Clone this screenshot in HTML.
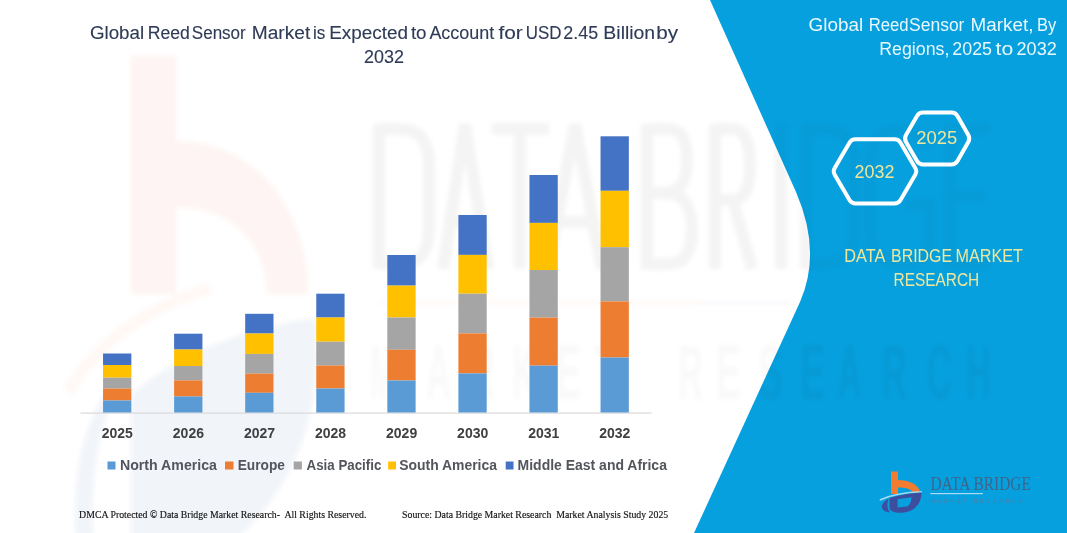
<!DOCTYPE html>
<html><head><meta charset="utf-8">
<style>
html,body{margin:0;padding:0;background:#fff;}
body{width:1067px;height:533px;overflow:hidden;position:relative;}
svg{position:absolute;left:0;top:0;}
text{white-space:pre;}
</style></head><body>
<svg width="1067" height="533" viewBox="0 0 1067 533">
<path d="M710,0 L796,192 Q822,252 800,302 L694,533 L1067,533 L1067,0 Z" fill="#07a0de"/>

<!-- watermark -->
<defs><filter id="bl" x="-10%" y="-10%" width="120%" height="120%"><feGaussianBlur stdDeviation="2"/></filter></defs>
<g filter="url(#bl)">
<g fill="#f05a3a" opacity="0.065">
<rect x="131" y="56" width="45" height="238"/>
<path d="M176,141 C252,141 308,205 308,294 L267,294 C267,243 230,207 176,207 Z"/>
</g>
<g fill="none" stroke="#ff6a1a" opacity="0.04" stroke-width="12">
<path d="M68,392 Q110,320 210,288"/>
</g>
<g fill="#2a4a9a" opacity="0.055">
<path d="M131,540 L131,395 C180,352 250,326 316,318 C322,410 300,480 236,540 Z"/><path d="M76,540 C72,470 84,420 112,384 L124,378 C100,420 90,470 93,540 Z"/>
</g>
<clipPath id="cw"><path d="M0,0 L710,0 L796,192 Q822,252 800,302 L694,533 L0,533 Z"/></clipPath><clipPath id="cb"><path d="M710,0 L796,192 Q822,252 800,302 L694,533 L1067,533 L1067,0 Z"/></clipPath><g clip-path="url(#cw)"><g fill="none" stroke="#000" stroke-opacity="0.045" stroke-width="12">
<path d="M379,124 L379,269 M379,129 L400,129 Q429,129 429,165 L429,228 Q429,264 400,264 L379,264"/>
<path d="M443,269 L465,124 L488,269 M451,222 L481,222"/>
<path d="M492,129 L549,129 M520,129 L520,269"/>
<path d="M548,269 L575,124 L602,269 M556,222 L594,222"/>
<path d="M647,124 L647,269 M647,129 L668,129 Q687,129 687,160 Q687,193 665,193 L647,193 M665,193 Q692,193 692,230 Q692,264 668,264 L647,264"/>
<path d="M715,269 L715,124 M715,129 L733,129 Q750,129 750,165 Q750,200 733,200 L715,200 M733,200 L752,269"/>
<path d="M781,124 L781,269"/>
<path d="M806,124 L806,269 M806,129 L825,129 Q855,129 855,165 L855,228 Q855,264 825,264 L806,264"/>
<path d="M928,150 Q920,129 900,129 Q870,129 870,165 L870,228 Q870,264 900,264 Q930,264 930,235 L930,205 L905,205"/>
<path d="M990,129 L950,129 L950,264 L990,264 M950,196 L985,196"/>
</g></g><g clip-path="url(#cb)"><g fill="none" stroke="#000" stroke-opacity="0.025" stroke-width="12">
<path d="M379,124 L379,269 M379,129 L400,129 Q429,129 429,165 L429,228 Q429,264 400,264 L379,264"/>
<path d="M443,269 L465,124 L488,269 M451,222 L481,222"/>
<path d="M492,129 L549,129 M520,129 L520,269"/>
<path d="M548,269 L575,124 L602,269 M556,222 L594,222"/>
<path d="M647,124 L647,269 M647,129 L668,129 Q687,129 687,160 Q687,193 665,193 L647,193 M665,193 Q692,193 692,230 Q692,264 668,264 L647,264"/>
<path d="M715,269 L715,124 M715,129 L733,129 Q750,129 750,165 Q750,200 733,200 L715,200 M733,200 L752,269"/>
<path d="M781,124 L781,269"/>
<path d="M806,124 L806,269 M806,129 L825,129 Q855,129 855,165 L855,228 Q855,264 825,264 L806,264"/>
<path d="M928,150 Q920,129 900,129 Q870,129 870,165 L870,228 Q870,264 900,264 Q930,264 930,235 L930,205 L905,205"/>
<path d="M990,129 L950,129 L950,264 L990,264 M950,196 L985,196"/>
</g></g>
<rect x="380" y="301" width="320" height="3" fill="#ff6a1a" opacity="0.05"/><rect x="700" y="301" width="90" height="3" fill="#2a4a9a" opacity="0.03"/>
<g clip-path="url(#cw)"><g fill="#000" opacity="0.022"><text x="370" y="399" textLength="25" lengthAdjust="spacingAndGlyphs" style="font-family:Liberation Sans;font-size:78px;font-weight:bold">M</text><text x="426" y="399" textLength="25" lengthAdjust="spacingAndGlyphs" style="font-family:Liberation Sans;font-size:78px;font-weight:bold">A</text><text x="470" y="399" textLength="25" lengthAdjust="spacingAndGlyphs" style="font-family:Liberation Sans;font-size:78px;font-weight:bold">R</text><text x="512" y="399" textLength="25" lengthAdjust="spacingAndGlyphs" style="font-family:Liberation Sans;font-size:78px;font-weight:bold">K</text><text x="556" y="399" textLength="25" lengthAdjust="spacingAndGlyphs" style="font-family:Liberation Sans;font-size:78px;font-weight:bold">E</text><text x="594" y="399" textLength="25" lengthAdjust="spacingAndGlyphs" style="font-family:Liberation Sans;font-size:78px;font-weight:bold">T</text><text x="678" y="399" textLength="25" lengthAdjust="spacingAndGlyphs" style="font-family:Liberation Sans;font-size:78px;font-weight:bold">R</text><text x="716" y="399" textLength="25" lengthAdjust="spacingAndGlyphs" style="font-family:Liberation Sans;font-size:78px;font-weight:bold">E</text><text x="758" y="399" textLength="25" lengthAdjust="spacingAndGlyphs" style="font-family:Liberation Sans;font-size:78px;font-weight:bold">S</text><text x="800" y="399" textLength="25" lengthAdjust="spacingAndGlyphs" style="font-family:Liberation Sans;font-size:78px;font-weight:bold">E</text><text x="837" y="399" textLength="25" lengthAdjust="spacingAndGlyphs" style="font-family:Liberation Sans;font-size:78px;font-weight:bold">A</text><text x="882" y="399" textLength="25" lengthAdjust="spacingAndGlyphs" style="font-family:Liberation Sans;font-size:78px;font-weight:bold">R</text><text x="927" y="399" textLength="25" lengthAdjust="spacingAndGlyphs" style="font-family:Liberation Sans;font-size:78px;font-weight:bold">C</text><text x="966" y="399" textLength="25" lengthAdjust="spacingAndGlyphs" style="font-family:Liberation Sans;font-size:78px;font-weight:bold">H</text></g></g><g clip-path="url(#cb)"><g fill="#000" opacity="0.04"><text x="370" y="399" textLength="25" lengthAdjust="spacingAndGlyphs" style="font-family:Liberation Sans;font-size:78px;font-weight:bold">M</text><text x="426" y="399" textLength="25" lengthAdjust="spacingAndGlyphs" style="font-family:Liberation Sans;font-size:78px;font-weight:bold">A</text><text x="470" y="399" textLength="25" lengthAdjust="spacingAndGlyphs" style="font-family:Liberation Sans;font-size:78px;font-weight:bold">R</text><text x="512" y="399" textLength="25" lengthAdjust="spacingAndGlyphs" style="font-family:Liberation Sans;font-size:78px;font-weight:bold">K</text><text x="556" y="399" textLength="25" lengthAdjust="spacingAndGlyphs" style="font-family:Liberation Sans;font-size:78px;font-weight:bold">E</text><text x="594" y="399" textLength="25" lengthAdjust="spacingAndGlyphs" style="font-family:Liberation Sans;font-size:78px;font-weight:bold">T</text><text x="678" y="399" textLength="25" lengthAdjust="spacingAndGlyphs" style="font-family:Liberation Sans;font-size:78px;font-weight:bold">R</text><text x="716" y="399" textLength="25" lengthAdjust="spacingAndGlyphs" style="font-family:Liberation Sans;font-size:78px;font-weight:bold">E</text><text x="758" y="399" textLength="25" lengthAdjust="spacingAndGlyphs" style="font-family:Liberation Sans;font-size:78px;font-weight:bold">S</text><text x="800" y="399" textLength="25" lengthAdjust="spacingAndGlyphs" style="font-family:Liberation Sans;font-size:78px;font-weight:bold">E</text><text x="837" y="399" textLength="25" lengthAdjust="spacingAndGlyphs" style="font-family:Liberation Sans;font-size:78px;font-weight:bold">A</text><text x="882" y="399" textLength="25" lengthAdjust="spacingAndGlyphs" style="font-family:Liberation Sans;font-size:78px;font-weight:bold">R</text><text x="927" y="399" textLength="25" lengthAdjust="spacingAndGlyphs" style="font-family:Liberation Sans;font-size:78px;font-weight:bold">C</text><text x="966" y="399" textLength="25" lengthAdjust="spacingAndGlyphs" style="font-family:Liberation Sans;font-size:78px;font-weight:bold">H</text></g></g>
</g>
<rect x="80.5" y="412.5" width="571" height="1.2" fill="#d9d9d9"/>
<rect x="103.05" y="353.50" width="28.3" height="11.50" fill="#4472C4"/>
<rect x="103.05" y="365.00" width="28.3" height="12.70" fill="#FFC000"/>
<rect x="103.05" y="377.70" width="28.3" height="10.90" fill="#A5A5A5"/>
<rect x="103.05" y="388.60" width="28.3" height="11.90" fill="#ED7D31"/>
<rect x="103.05" y="400.50" width="28.3" height="12.00" fill="#5B9BD5"/>
<rect x="174.12" y="333.70" width="28.3" height="15.80" fill="#4472C4"/>
<rect x="174.12" y="349.50" width="28.3" height="16.50" fill="#FFC000"/>
<rect x="174.12" y="366.00" width="28.3" height="14.40" fill="#A5A5A5"/>
<rect x="174.12" y="380.40" width="28.3" height="16.10" fill="#ED7D31"/>
<rect x="174.12" y="396.50" width="28.3" height="16.00" fill="#5B9BD5"/>
<rect x="245.19" y="313.80" width="28.3" height="19.70" fill="#4472C4"/>
<rect x="245.19" y="333.50" width="28.3" height="20.40" fill="#FFC000"/>
<rect x="245.19" y="353.90" width="28.3" height="19.70" fill="#A5A5A5"/>
<rect x="245.19" y="373.60" width="28.3" height="19.20" fill="#ED7D31"/>
<rect x="245.19" y="392.80" width="28.3" height="19.70" fill="#5B9BD5"/>
<rect x="316.26" y="293.70" width="28.3" height="23.80" fill="#4472C4"/>
<rect x="316.26" y="317.50" width="28.3" height="24.20" fill="#FFC000"/>
<rect x="316.26" y="341.70" width="28.3" height="23.80" fill="#A5A5A5"/>
<rect x="316.26" y="365.50" width="28.3" height="23.00" fill="#ED7D31"/>
<rect x="316.26" y="388.50" width="28.3" height="24.00" fill="#5B9BD5"/>
<rect x="387.33" y="255.00" width="28.3" height="30.60" fill="#4472C4"/>
<rect x="387.33" y="285.60" width="28.3" height="31.90" fill="#FFC000"/>
<rect x="387.33" y="317.50" width="28.3" height="32.30" fill="#A5A5A5"/>
<rect x="387.33" y="349.80" width="28.3" height="30.70" fill="#ED7D31"/>
<rect x="387.33" y="380.50" width="28.3" height="32.00" fill="#5B9BD5"/>
<rect x="458.40" y="215.00" width="28.3" height="39.90" fill="#4472C4"/>
<rect x="458.40" y="254.90" width="28.3" height="38.80" fill="#FFC000"/>
<rect x="458.40" y="293.70" width="28.3" height="39.70" fill="#A5A5A5"/>
<rect x="458.40" y="333.40" width="28.3" height="40.00" fill="#ED7D31"/>
<rect x="458.40" y="373.40" width="28.3" height="39.10" fill="#5B9BD5"/>
<rect x="529.47" y="175.00" width="28.3" height="47.90" fill="#4472C4"/>
<rect x="529.47" y="222.90" width="28.3" height="47.10" fill="#FFC000"/>
<rect x="529.47" y="270.00" width="28.3" height="47.60" fill="#A5A5A5"/>
<rect x="529.47" y="317.60" width="28.3" height="48.00" fill="#ED7D31"/>
<rect x="529.47" y="365.60" width="28.3" height="46.90" fill="#5B9BD5"/>
<rect x="600.54" y="136.30" width="28.3" height="54.50" fill="#4472C4"/>
<rect x="600.54" y="190.80" width="28.3" height="56.40" fill="#FFC000"/>
<rect x="600.54" y="247.20" width="28.3" height="54.20" fill="#A5A5A5"/>
<rect x="600.54" y="301.40" width="28.3" height="56.10" fill="#ED7D31"/>
<rect x="600.54" y="357.50" width="28.3" height="55.00" fill="#5B9BD5"/>
<rect x="107.5" y="461.5" width="8" height="8" fill="#5B9BD5"/>
<rect x="225" y="461.5" width="8.5" height="8" fill="#ED7D31"/>
<rect x="293.7" y="461.5" width="8.2" height="8" fill="#A5A5A5"/>
<rect x="388.2" y="461.5" width="7.8" height="8" fill="#FFC000"/>
<rect x="505.7" y="461.5" width="7.8" height="8" fill="#4472C4"/>
<path d="M834.72,174.80 Q832.70,171.35 834.72,167.90 L849.48,142.65 Q851.50,139.20 855.50,139.20 L894.50,139.20 Q898.50,139.20 900.52,142.65 L915.28,167.90 Q917.30,171.35 915.28,174.80 L900.52,200.05 Q898.50,203.50 894.50,203.50 L855.50,203.50 Q851.50,203.50 849.48,200.05 Z" fill="none" stroke="#fff" stroke-width="4"/>
<path d="M906.00,141.96 Q904.00,138.50 906.00,135.04 L917.00,115.96 Q919.00,112.50 923.00,112.50 L951.50,112.50 Q955.50,112.50 957.48,115.98 L968.32,135.02 Q970.30,138.50 968.32,141.98 L957.48,161.02 Q955.50,164.50 951.50,164.50 L923.00,164.50 Q919.00,164.50 917.00,161.04 Z" fill="none" stroke="#fff" stroke-width="4"/>
<text x="89.93" y="39" textLength="54.21" lengthAdjust="spacingAndGlyphs" style="font-family:Liberation Sans;font-size:17.5px;font-weight:normal;fill:#2e3b57;stroke:#2e3b57;stroke-width:0.12">Global</text>
<text x="147.69" y="39" textLength="42.16" lengthAdjust="spacingAndGlyphs" style="font-family:Liberation Sans;font-size:17.5px;font-weight:normal;fill:#2e3b57;stroke:#2e3b57;stroke-width:0.12">Reed</text>
<text x="191.83" y="39" textLength="53.91" lengthAdjust="spacingAndGlyphs" style="font-family:Liberation Sans;font-size:17.5px;font-weight:normal;fill:#2e3b57;stroke:#2e3b57;stroke-width:0.12">Sensor</text>
<text x="251.81" y="39" textLength="58.42" lengthAdjust="spacingAndGlyphs" style="font-family:Liberation Sans;font-size:17.5px;font-weight:normal;fill:#2e3b57;stroke:#2e3b57;stroke-width:0.12">Market</text>
<text x="313.03" y="39" textLength="12.3" lengthAdjust="spacingAndGlyphs" style="font-family:Liberation Sans;font-size:17.5px;font-weight:normal;fill:#2e3b57;stroke:#2e3b57;stroke-width:0.12">is</text>
<text x="329.22" y="39" textLength="78.93" lengthAdjust="spacingAndGlyphs" style="font-family:Liberation Sans;font-size:17.5px;font-weight:normal;fill:#2e3b57;stroke:#2e3b57;stroke-width:0.12">Expected</text>
<text x="410.9" y="39" textLength="15.65" lengthAdjust="spacingAndGlyphs" style="font-family:Liberation Sans;font-size:17.5px;font-weight:normal;fill:#2e3b57;stroke:#2e3b57;stroke-width:0.12">to</text>
<text x="429.4" y="39" textLength="64.84" lengthAdjust="spacingAndGlyphs" style="font-family:Liberation Sans;font-size:17.5px;font-weight:normal;fill:#2e3b57;stroke:#2e3b57;stroke-width:0.12">Account</text>
<text x="498.4" y="39" textLength="24.32" lengthAdjust="spacingAndGlyphs" style="font-family:Liberation Sans;font-size:17.5px;font-weight:normal;fill:#2e3b57;stroke:#2e3b57;stroke-width:0.12">for</text>
<text x="525.83" y="39" textLength="35.69" lengthAdjust="spacingAndGlyphs" style="font-family:Liberation Sans;font-size:17.5px;font-weight:normal;fill:#2e3b57;stroke:#2e3b57;stroke-width:0.12">USD</text>
<text x="563.28" y="39" textLength="34.81" lengthAdjust="spacingAndGlyphs" style="font-family:Liberation Sans;font-size:17.5px;font-weight:normal;fill:#2e3b57;stroke:#2e3b57;stroke-width:0.12">2.45</text>
<text x="603.39" y="39" textLength="51.79" lengthAdjust="spacingAndGlyphs" style="font-family:Liberation Sans;font-size:17.5px;font-weight:normal;fill:#2e3b57;stroke:#2e3b57;stroke-width:0.12">Billion</text>
<text x="656.22" y="39" textLength="21.86" lengthAdjust="spacingAndGlyphs" style="font-family:Liberation Sans;font-size:17.5px;font-weight:normal;fill:#2e3b57;stroke:#2e3b57;stroke-width:0.12">by</text>
<text x="364.08" y="63" textLength="39.88" lengthAdjust="spacingAndGlyphs" style="font-family:Liberation Sans;font-size:17.5px;font-weight:normal;fill:#2e3b57;stroke:#2e3b57;stroke-width:0.12">2032</text>
<text x="808.62" y="30.6" textLength="54.62" lengthAdjust="spacingAndGlyphs" style="font-family:Liberation Sans;font-size:17.5px;font-weight:normal;fill:#e8f8fe">Global</text>
<text x="868.64" y="30.6" textLength="39.96" lengthAdjust="spacingAndGlyphs" style="font-family:Liberation Sans;font-size:17.5px;font-weight:normal;fill:#e8f8fe">Reed</text>
<text x="909.0" y="30.6" textLength="55.45" lengthAdjust="spacingAndGlyphs" style="font-family:Liberation Sans;font-size:17.5px;font-weight:normal;fill:#e8f8fe">Sensor</text>
<text x="970.62" y="30.6" textLength="62.84" lengthAdjust="spacingAndGlyphs" style="font-family:Liberation Sans;font-size:17.5px;font-weight:normal;fill:#e8f8fe">Market,</text>
<text x="1037.05" y="30.6" textLength="19.36" lengthAdjust="spacingAndGlyphs" style="font-family:Liberation Sans;font-size:17.5px;font-weight:normal;fill:#e8f8fe">By</text>
<text x="879.29" y="54.5" textLength="70.11" lengthAdjust="spacingAndGlyphs" style="font-family:Liberation Sans;font-size:17.5px;font-weight:normal;fill:#e8f8fe">Regions,</text>
<text x="952.38" y="54.5" textLength="39.67" lengthAdjust="spacingAndGlyphs" style="font-family:Liberation Sans;font-size:17.5px;font-weight:normal;fill:#e8f8fe">2025</text>
<text x="995.6" y="54.5" textLength="17.64" lengthAdjust="spacingAndGlyphs" style="font-family:Liberation Sans;font-size:17.5px;font-weight:normal;fill:#e8f8fe">to</text>
<text x="1016.57" y="54.5" textLength="40.2" lengthAdjust="spacingAndGlyphs" style="font-family:Liberation Sans;font-size:17.5px;font-weight:normal;fill:#e8f8fe">2032</text>
<text x="844.3" y="261.9" textLength="41.02" lengthAdjust="spacingAndGlyphs" style="font-family:Liberation Sans;font-size:18px;font-weight:normal;fill:#efe79c">DATA</text>
<text x="891.12" y="261.9" textLength="60.88" lengthAdjust="spacingAndGlyphs" style="font-family:Liberation Sans;font-size:18px;font-weight:normal;fill:#efe79c">BRIDGE</text>
<text x="955.4" y="261.9" textLength="67.51" lengthAdjust="spacingAndGlyphs" style="font-family:Liberation Sans;font-size:18px;font-weight:normal;fill:#efe79c">MARKET</text>
<text x="893.54" y="285.6" textLength="85.64" lengthAdjust="spacingAndGlyphs" style="font-family:Liberation Sans;font-size:18px;font-weight:normal;fill:#efe79c">RESEARCH</text>
<text x="854.61" y="177.7" textLength="39.84" lengthAdjust="spacingAndGlyphs" style="font-family:Liberation Sans;font-size:18px;font-weight:normal;fill:#efe79c">2032</text>
<text x="916.28" y="143.8" textLength="40.89" lengthAdjust="spacingAndGlyphs" style="font-family:Liberation Sans;font-size:18px;font-weight:normal;fill:#efe79c">2025</text>
<text x="119.99" y="469.9" textLength="96.96" lengthAdjust="spacingAndGlyphs" style="font-family:Liberation Sans;font-size:14px;font-weight:bold;fill:#52555b">North America</text>
<text x="237.72" y="469.9" textLength="47.21" lengthAdjust="spacingAndGlyphs" style="font-family:Liberation Sans;font-size:14px;font-weight:bold;fill:#52555b">Europe</text>
<text x="306.6" y="469.9" textLength="74.78" lengthAdjust="spacingAndGlyphs" style="font-family:Liberation Sans;font-size:14px;font-weight:bold;fill:#52555b">Asia Pacific</text>
<text x="399.21" y="469.9" textLength="97.77" lengthAdjust="spacingAndGlyphs" style="font-family:Liberation Sans;font-size:14px;font-weight:bold;fill:#52555b">South America</text>
<text x="517.6" y="469.9" textLength="149.32" lengthAdjust="spacingAndGlyphs" style="font-family:Liberation Sans;font-size:14px;font-weight:bold;fill:#52555b">Middle East and Africa</text>
<text x="101.75" y="438.2" textLength="31.16" lengthAdjust="spacingAndGlyphs" style="font-family:Liberation Sans;font-size:14px;font-weight:bold;fill:#404040">2025</text>
<text x="172.82" y="438.2" textLength="31.16" lengthAdjust="spacingAndGlyphs" style="font-family:Liberation Sans;font-size:14px;font-weight:bold;fill:#404040">2026</text>
<text x="243.89" y="438.2" textLength="31.16" lengthAdjust="spacingAndGlyphs" style="font-family:Liberation Sans;font-size:14px;font-weight:bold;fill:#404040">2027</text>
<text x="314.96" y="438.2" textLength="31.16" lengthAdjust="spacingAndGlyphs" style="font-family:Liberation Sans;font-size:14px;font-weight:bold;fill:#404040">2028</text>
<text x="386.03" y="438.2" textLength="31.16" lengthAdjust="spacingAndGlyphs" style="font-family:Liberation Sans;font-size:14px;font-weight:bold;fill:#404040">2029</text>
<text x="457.1" y="438.2" textLength="31.16" lengthAdjust="spacingAndGlyphs" style="font-family:Liberation Sans;font-size:14px;font-weight:bold;fill:#404040">2030</text>
<text x="528.17" y="438.2" textLength="31.16" lengthAdjust="spacingAndGlyphs" style="font-family:Liberation Sans;font-size:14px;font-weight:bold;fill:#404040">2031</text>
<text x="599.24" y="438.2" textLength="31.16" lengthAdjust="spacingAndGlyphs" style="font-family:Liberation Sans;font-size:14px;font-weight:bold;fill:#404040">2032</text>
<text x="79.07" y="517.9" textLength="287.36" lengthAdjust="spacingAndGlyphs" style="font-family:Liberation Serif;font-size:10.5px;font-weight:normal;fill:#111;stroke:#111;stroke-width:0.15">DMCA Protected © Data Bridge Market Research-  All Rights Reserved.</text>
<text x="402.07" y="517.9" textLength="266.15" lengthAdjust="spacingAndGlyphs" style="font-family:Liberation Serif;font-size:10.5px;font-weight:normal;fill:#111;stroke:#111;stroke-width:0.15">Source: Data Bridge Market Research  Market Analysis Study 2025</text>
<!-- logo -->
<path d="M891,471.6 L898,471.6 L898,480 C908,480 919,484 920,492.3 L912.6,492.3 C911,489 905,487.6 898,487.6 L898,494 L891,494 Z" fill="#f47c30"/>
<path d="M879.8,500 Q896,492.5 922,491.8" fill="none" stroke="#9fd8f2" stroke-width="1.6"/>
<path fill-rule="evenodd" d="M889.5,498 C900,495 912,493 921.5,492.5 C921.5,503 915,512.8 900,512.8 C894,512.8 890,511 889.5,508 Z M897.6,499.2 L911.6,497.2 C911.2,502 909.5,506 906.5,506.6 L897.6,507.4 Z" fill="#3d4e9e"/><path d="M886.8,499.6 C883.5,502 881.5,505 881.8,507.5 C882.5,510.5 886,512 890,512.6 C887.5,509.5 886.5,504 888.6,499 Z" fill="#3d4e9e"/>
<text x="930.4" y="490" textLength="100.6" lengthAdjust="spacingAndGlyphs" style="font-family:Liberation Serif;font-size:19px;fill:#4b5a78;opacity:0.85">DATA BRIDGE</text>
<rect x="930.4" y="493" width="52.6" height="1.2" fill="#a9dcf2"/>
<text x="930.4" y="503" textLength="95" lengthAdjust="spacingAndGlyphs" style="font-family:Liberation Sans;font-size:6px;letter-spacing:3px;fill:#5a7aa0">MARKET RESEARCH</text>

</svg>
</body></html>
